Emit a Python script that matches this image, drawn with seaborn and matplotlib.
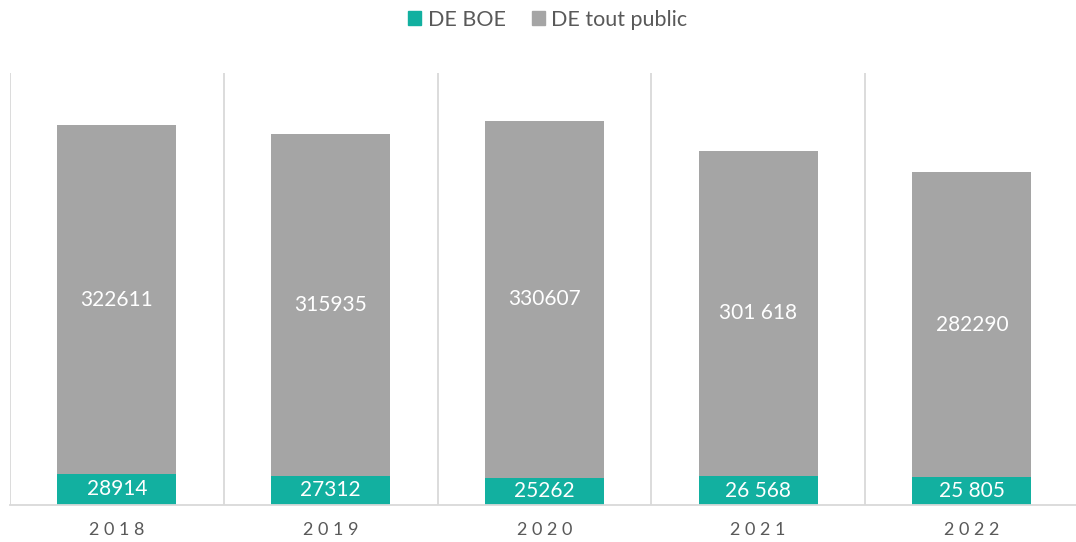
"""
Stacked bars: DE BOE vs DE tout public, 2018-2022.
"""

import numpy as np
import pandas as pd
import seaborn as sns
import matplotlib.pyplot as plt
from matplotlib.patches import Patch

# data
years = ['2018', '2019', '2020', '2021', '2022']
boe = [28914, 27312, 25262, 26568, 25805]
tout_public = [322611, 315935, 330607, 301618, 282290]
boe_labels = ['28914', '27312', '25262', '26 568', '25 805']
tout_labels = ['322611', '315935', '330607', '301 618', '282290']

teal = '#12B0A0'
grey = '#A5A5A5'
text_grey = '#595959'

sns.set_theme(style='white')
plt.rcParams['font.family'] = ['Lato', 'DejaVu Sans']

df = pd.DataFrame({'year': years, 'boe': boe, 'tout': tout_public})
df['total'] = df['boe'] + df['tout']

fig = plt.figure(figsize=(10.76, 5.42), dpi=100)
ax = fig.add_axes([10 / 1076, 37 / 542, 1.0026 - 10 / 1076, 432 / 542])

# grey full bar first, teal drawn over the bottom part
sns.barplot(data=df, x='year', y='total', color=grey, width=0.557,
            saturation=1, linewidth=0, ax=ax)
sns.barplot(data=df, x='year', y='boe', color=teal, width=0.557,
            saturation=1, linewidth=0, ax=ax)

# value labels in the middle of each segment
for i in range(len(years)):
    ax.text(i, boe[i] / 2, boe_labels[i], ha='center', va='center',
            color='white', fontsize=15)
    ax.text(i, boe[i] + tout_public[i] / 2, tout_labels[i], ha='center',
            va='center', color='white', fontsize=15)

ax.set_ylim(0, 400000)
ax.set_xlim(-0.5, 4.5)
ax.set_yticks([])
ax.set_xlabel('')
ax.set_ylabel('')

# letter-spaced year labels like the original
ax.set_xticks(range(len(years)))
ax.set_xticklabels([' '.join(y) for y in years])

# category separators
for xs in np.arange(-0.5, 4.6, 1):
    ax.axvline(xs, color='#D9D9D9', lw=1.3, zorder=0)

for s in ['top', 'right', 'left']:
    ax.spines[s].set_visible(False)
ax.spines['bottom'].set_color('#D9D9D9')
ax.spines['bottom'].set_linewidth(1.3)

ax.tick_params(axis='x', length=0, pad=12, labelsize=13, labelcolor=text_grey)

handles = [Patch(color=teal, label='DE BOE'),
           Patch(color=grey, label='DE tout public')]
fig.legend(handles=handles, loc='center', bbox_to_anchor=(0.509, 1 - 20 / 542),
           ncol=2, frameon=False, fontsize=15.5, labelcolor=text_grey,
           handlelength=0.62, handleheight=0.62, handletextpad=0.3,
           columnspacing=1.2)

fig.savefig('out.png', dpi=100)
